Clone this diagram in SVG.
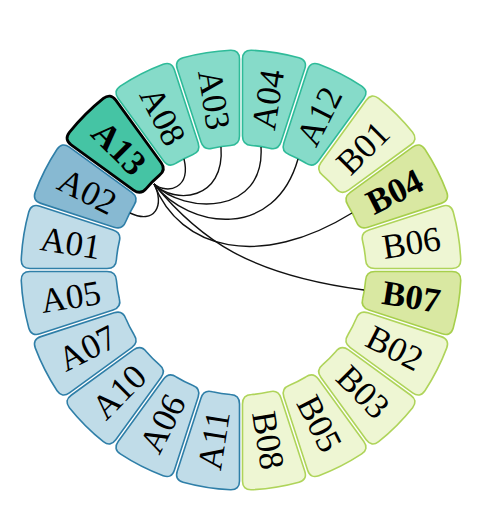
<svg xmlns="http://www.w3.org/2000/svg" xmlns:xlink="http://www.w3.org/1999/xlink" width="480" height="519" viewBox="0 0 480 519">
<style>
.n{stroke-width:1.6;stroke-linejoin:round}
.na{fill:#c0dce8;stroke:#2f7fa8}
.na2{fill:#87b9d2;stroke:#2f7fa8}
.nt{fill:#86dbc9;stroke:#2fbb99}
.nts{fill:#45c4a4;stroke:#000;stroke-width:2.8}
.nb{fill:#eef6d3;stroke:#afd45a}
.nb2{fill:#d9e8a2;stroke:#a7cf4c}
text{font-family:"Liberation Serif","Times New Roman",serif;font-size:35px;text-anchor:middle;fill:#000}
text.b{font-weight:bold}
.links path{fill:none;stroke:#111;stroke-width:1.4}
</style>
<defs>
<path id="sec" d="M-24.03,-218.68 A220,220 0 0 1 24.03,-218.68 Q32.93,-217.52 31.52,-208.63 L19.48,-132.58 Q18.07,-123.69 9.12,-124.67 A125,125 0 0 0 -9.12,-124.67 Q-18.07,-123.69 -19.48,-132.58 L-31.52,-208.63 Q-32.93,-217.52 -24.03,-218.68 Z"/>
</defs>
<g id="node-A04" transform="translate(241,270) rotate(9)"><use href="#sec" class="n nt"/><text y="-172.5" dy="0.33em" transform="rotate(-90 0 -172.5)">A04</text></g>
<g id="node-A12" transform="translate(241,270) rotate(27)"><use href="#sec" class="n nt"/><text y="-172.5" dy="0.33em" transform="rotate(-90 0 -172.5)">A12</text></g>
<g id="node-B01" transform="translate(241,270) rotate(45)"><use href="#sec" class="n nb"/><text y="-172.5" dy="0.33em" transform="rotate(-90 0 -172.5)">B01</text></g>
<g id="node-B04" transform="translate(241,270) rotate(63)"><use href="#sec" class="n nb2"/><text class="b" y="-172.5" dy="0.33em" transform="rotate(-90 0 -172.5)">B04</text></g>
<g id="node-B06" transform="translate(241,270) rotate(81)"><use href="#sec" class="n nb"/><text y="-172.5" dy="0.33em" transform="rotate(-90 0 -172.5)">B06</text></g>
<g id="node-B07" transform="translate(241,270) rotate(99)"><use href="#sec" class="n nb2"/><text class="b" y="-172.5" dy="0.33em" transform="rotate(-90 0 -172.5)">B07</text></g>
<g id="node-B02" transform="translate(241,270) rotate(117)"><use href="#sec" class="n nb"/><text y="-172.5" dy="0.33em" transform="rotate(-90 0 -172.5)">B02</text></g>
<g id="node-B03" transform="translate(241,270) rotate(135)"><use href="#sec" class="n nb"/><text y="-172.5" dy="0.33em" transform="rotate(-90 0 -172.5)">B03</text></g>
<g id="node-B05" transform="translate(241,270) rotate(153)"><use href="#sec" class="n nb"/><text y="-172.5" dy="0.33em" transform="rotate(-90 0 -172.5)">B05</text></g>
<g id="node-B08" transform="translate(241,270) rotate(171)"><use href="#sec" class="n nb"/><text y="-172.5" dy="0.33em" transform="rotate(-90 0 -172.5)">B08</text></g>
<g id="node-A11" transform="translate(241,270) rotate(189)"><use href="#sec" class="n na"/><text y="-172.5" dy="0.33em" transform="rotate(90 0 -172.5)">A11</text></g>
<g id="node-A06" transform="translate(241,270) rotate(207)"><use href="#sec" class="n na"/><text y="-172.5" dy="0.33em" transform="rotate(90 0 -172.5)">A06</text></g>
<g id="node-A10" transform="translate(241,270) rotate(225)"><use href="#sec" class="n na"/><text y="-172.5" dy="0.33em" transform="rotate(90 0 -172.5)">A10</text></g>
<g id="node-A07" transform="translate(241,270) rotate(243)"><use href="#sec" class="n na"/><text y="-172.5" dy="0.33em" transform="rotate(90 0 -172.5)">A07</text></g>
<g id="node-A05" transform="translate(241,270) rotate(261)"><use href="#sec" class="n na"/><text y="-172.5" dy="0.33em" transform="rotate(90 0 -172.5)">A05</text></g>
<g id="node-A01" transform="translate(241,270) rotate(279)"><use href="#sec" class="n na"/><text y="-172.5" dy="0.33em" transform="rotate(90 0 -172.5)">A01</text></g>
<g id="node-A02" transform="translate(241,270) rotate(297)"><use href="#sec" class="n na2"/><text y="-172.5" dy="0.33em" transform="rotate(90 0 -172.5)">A02</text></g>
<g id="node-A08" transform="translate(241,270) rotate(333)"><use href="#sec" class="n nt"/><text y="-172.5" dy="0.33em" transform="rotate(90 0 -172.5)">A08</text></g>
<g id="node-A03" transform="translate(241,270) rotate(351)"><use href="#sec" class="n nt"/><text y="-172.5" dy="0.33em" transform="rotate(90 0 -172.5)">A03</text></g>
<g class="links" id="links">
<path d="M154,184 C168,195 191,188 184,159"/>
<path d="M154,184 C175,205 225,200 221,147"/>
<path d="M154,184 C185,215 265,215 261,147"/>
<path d="M154,184 C190,230 275,240 298,159"/>
<path d="M154,184 C180,250 260,270 352,213"/>
<path d="M154,184 C200,240 250,275 364,290"/>
<path d="M154,184 C165,205 155,225 130,213"/>
</g>
<g id="node-A13" transform="translate(241,270) rotate(315)"><use href="#sec" class="n nts"/><text class="b" y="-172.5" dy="0.33em" transform="rotate(90 0 -172.5)">A13</text></g>
</svg>
